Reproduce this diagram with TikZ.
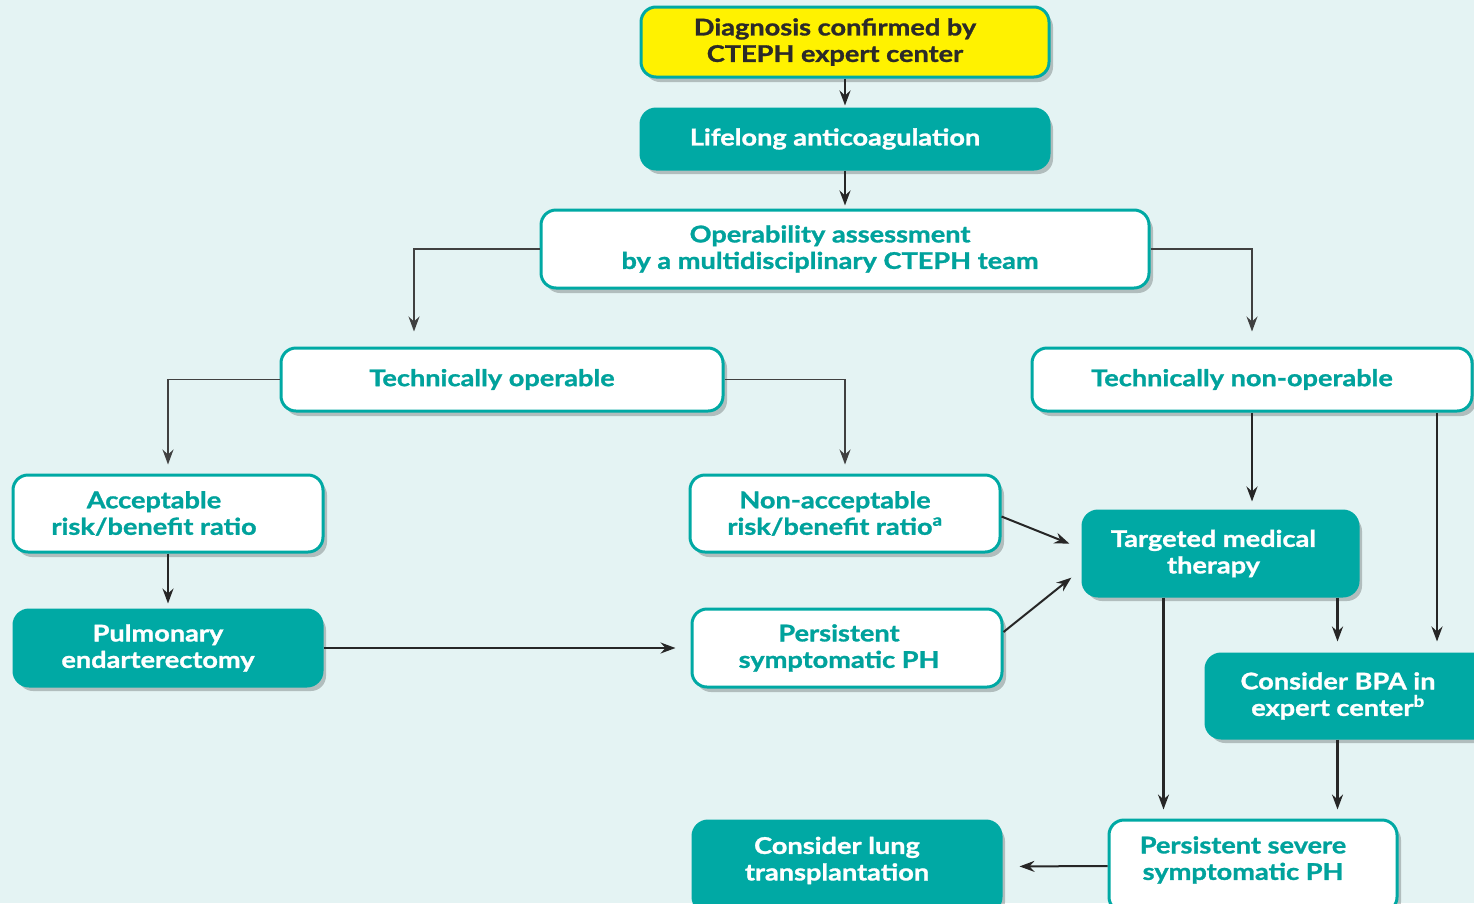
\documentclass[tikz,border=0pt]{standalone}
\usepackage{fontspec}
\setmainfont{Lato}[BoldFeatures={FakeBold=1.2,FakeStretch=1.18}]
\usetikzlibrary{arrows.meta,shadows,calc}
\definecolor{bgc}{HTML}{E4F3F3}
\definecolor{teal1}{HTML}{00A9A4}
\definecolor{tealtxt}{HTML}{00A29C}
\definecolor{yel}{HTML}{FFF200}
\definecolor{dark}{HTML}{2B2A29}
\tikzset{
  base/.style={rounded corners=15pt, line width=3pt, inner sep=0pt,
    drop shadow={shadow xshift=4pt, shadow yshift=-5pt, opacity=0.22, fill=black}},
  boxw/.style={base, draw=teal1, fill=white},
  boxt/.style={base, draw=teal1, fill=teal1},
  boxy/.style={base, draw=teal1, fill=yel},
  lbase/.style={align=center, inner sep=0pt, xshift=-10pt,
    font=\fontsize{23}{26.5}\selectfont\bfseries},
  lw/.style={lbase, text=tealtxt},
  lt/.style={lbase, text=white},
  ly/.style={lbase, text=dark},
  arr/.style={draw=black!85, line width=2pt, -{Stealth[length=15pt,width=11pt,inset=5pt]}},
  arrthin/.style={arr, draw=black!75, line width=1.4pt},
  arrb/.style={arr, line width=2.6pt},
}
\begin{document}
\begin{tikzpicture}[x=1pt,y=-1pt]
\useasboundingbox (0,0) rectangle (1474,903);
\fill[bgc] (0,0) rectangle (1474,903);
\clip (0,0) rectangle (1474,903);

\node[boxy, minimum width=408pt, minimum height=70pt,
  label={[ly]center:Diagnosis confirmed by\\CTEPH expert center}] (diag) at (845,42) {};
\node[boxt, minimum width=408pt, minimum height=60pt,
  label={[lt]center:Lifelong anticoagulation}] (life) at (845,139) {};
\node[boxw, minimum width=608pt, minimum height=78pt,
  label={[lw, xshift=-5pt]center:Operability assessment\\by a multidisciplinary CTEPH team}] (op) at (845,249) {};
\node[boxw, minimum width=442pt, minimum height=63pt,
  label={[lw]center:Technically operable}] (tlop) at (502,379.5) {};
\node[boxw, minimum width=440pt, minimum height=63pt,
  label={[lw]center:Technically non-operable}] (tnon) at (1252,379.5) {};
\node[boxw, minimum width=310pt, minimum height=77pt,
  label={[lw, xshift=-4pt]center:Acceptable\\risk/benefit ratio}] (acc) at (168,513.5) {};
\node[boxw, minimum width=310pt, minimum height=77pt,
  label={[lw]center:Non-acceptable\\risk/benefit ratio\textsuperscript{a}}] (nonacc) at (845,513.5) {};
\node[boxt, minimum width=275pt, minimum height=85pt,
  label={[lt, xshift=3pt]center:Targeted medical\\therapy}] (targ) at (1220.5,553.5) {};
\node[boxt, minimum width=308pt, minimum height=76pt,
  label={[lt]center:Pulmonary\\endarterectomy}] (pulm) at (168,648) {};
\node[boxw, minimum width=310pt, minimum height=78pt,
  label={[lw, xshift=2pt]center:Persistent\\symptomatic PH}] (pers) at (847,648) {};
\node[boxt, minimum width=284pt, minimum height=84pt,
  label={[lt]center:Consider BPA in\\expert center\textsuperscript{b}}] (bpa) at (1348,696) {};
\node[boxw, minimum width=288pt, minimum height=92pt,
  label={[lw, yshift=6pt]center:Persistent severe\\symptomatic PH}] (sev) at (1253,866) {};
\node[boxt, minimum width=308pt, minimum height=91pt,
  label={[lt, yshift=6pt]center:Consider lung\\transplantation}] (lung) at (847,866.5) {};

\draw[arrb, shorten >=2pt] (diag.south) -- (life.north);
\draw[arrb, shorten >=3pt] (life.south) -- (op.north);
\draw[arrthin, shorten >=15pt] (op.west) -| ([xshift=-88pt]tlop.north);
\draw[arrthin, shorten >=15pt] (op.east) -| (tnon.north);
\draw[arrthin, shorten >=9pt] (tlop.west) -| (acc.north);
\draw[arrthin, shorten >=9pt] (tlop.east) -| (nonacc.north);
\draw[arrb, shorten >=8pt] (tnon.south) -- (tnon.south |- targ.north);
\draw[arrb, shorten >=11pt] ([xshift=185pt]tnon.south) -- ([xshift=185pt]tnon.south |- bpa.north);
\draw[arr, shorten >=5pt] (acc.south) -- (pulm.north);
\draw[arr, shorten >=15pt] (pulm.east) -- (pers.west);
\draw[arr, shorten >=13pt] ([yshift=-3pt]nonacc.east) -- ([yshift=5pt]targ.west);
\draw[arr, shorten >=13pt] ([yshift=16pt]pers.east) -- ([yshift=-16pt]targ.west);
\draw[arrb, shorten >=9pt] ([xshift=-57pt]targ.south) -- ([xshift=-57pt]targ.south |- sev.north);
\draw[arrb, shorten >=11pt] ([xshift=117pt]targ.south) -- ([xshift=117pt]targ.south |- bpa.north);
\draw[arrb, shorten >=9pt] ([xshift=117pt]targ.south |- bpa.south) -- ([xshift=117pt]targ.south |- sev.north);
\draw[arr, shorten >=17pt] (sev.west) -- (lung.east);
\end{tikzpicture}
\end{document}
